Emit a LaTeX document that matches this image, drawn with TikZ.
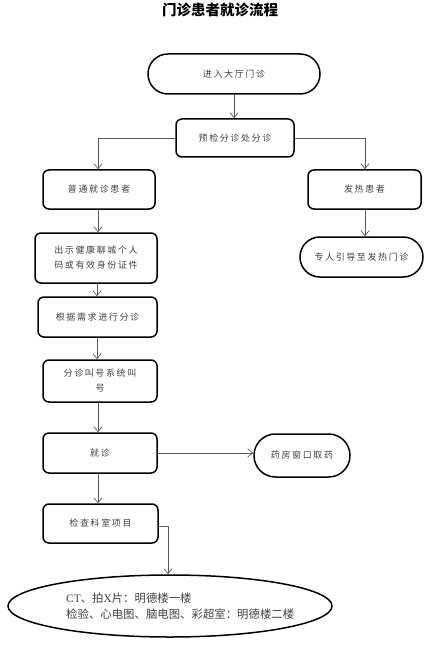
\documentclass[tikz,border=0pt]{standalone}
\usepackage{fontspec}
\setmainfont{Liberation Serif}
\newfontfamily\cjk{Noto Sans CJK SC}
\newfontfamily\cjksp{Noto Sans CJK SC}[LetterSpace=18]
\usetikzlibrary{arrows.meta,shapes.geometric}
\tikzset{
  box/.style={draw=black, line width=1.5pt, rounded corners=6pt, inner sep=0pt,
    align=center, text=black!75, font=\cjksp\fontsize{9}{15}\selectfont},
  pill/.style={box, rounded corners=#1},
  conn/.style={draw=black!65, line width=0.7pt},
  arr/.style={conn, -{Straight Barb[length=5pt,width=8pt]}}
}
\begin{document}
\begin{tikzpicture}[x=1pt,y=-1pt]
\useasboundingbox (0,0) rectangle (442,660);
\node[font=\cjk\bfseries\fontsize{14.5}{16}\selectfont] (title) at (220,10) {门诊患者就诊流程};

\node[pill=19.9pt, minimum width=172pt, minimum height=40pt] (N1) at (234,74) {进入大厅门诊};
\node[box, minimum width=118pt, minimum height=38pt] (N2) at (235,138) {预检分诊处分诊};
\node[box, minimum width=112pt, minimum height=39pt] (N3) at (99,189.5) {普通就诊患者};
\node[box, minimum width=113pt, minimum height=39pt] (N4) at (364.5,189.5) {发热患者};
\node[box, minimum width=122pt, minimum height=50pt] (N5) at (96,258) {出示健康聊城个人\\码或有效身份证件};
\node[pill=19.9pt, minimum width=123pt, minimum height=40pt] (N6) at (361.5,257) {专人引导至发热门诊};
\node[box, minimum width=119pt, minimum height=40pt] (N7) at (97.5,317) {根据需求进行分诊};
\node[box, minimum width=114pt, minimum height=42pt] (N8) at (100,381) {分诊叫号系统叫\\号};
\node[box, minimum width=114pt, minimum height=40pt] (N9) at (100,453) {就诊};
\node[pill=21.4pt, minimum width=96pt, minimum height=43pt] (N10) at (302,455.5) {药房窗口取药};
\node[box, minimum width=115pt, minimum height=39pt] (N11) at (100.5,523.5) {检查科室项目};
\node[ellipse, draw=black, line width=1.5pt, minimum width=324pt, minimum height=62pt, inner sep=0pt] (N12) at (170,606) {};
\node[anchor=west, align=left, inner sep=0pt, text=black!75, font=\cjk\fontsize{11.4}{16}\selectfont] (N12t) at (66,606)
  {{\rmfamily CT}、拍{\rmfamily X}片：明德楼一楼\\检验、心电图、脑电图、彩超室：明德楼二楼};

\coordinate (c1) at (168,526);

\draw[arr] (N1.south) -- (N1.south |- N2.north);
\draw[arr] (N2.west) -| (N3.north -| 98,0);
\draw[arr] (N2.east) -| (N4.north -| 365,0);
\draw[arr] (N3.south -| 98,0) -- (N5.north -| 98,0);
\draw[arr] (N4.south -| 365,0) -- (N6.north -| 365,0);
\draw[arr] (N5.south -| 97,0) -- (N7.north -| 97,0);
\draw[arr] (N7.south -| 97,0) -- (N8.north -| 97,0);
\draw[arr] (N8.south -| 98,0) -- (N9.north -| 98,0);
\draw[arr] (N9.east) -- (N10.west |- N9.east);
\draw[arr] (N9.south -| 98,0) -- (N11.north -| 98,0);
\draw[arr] (N11.east |- c1) -- (c1) -- (c1 |- N12.north);
\end{tikzpicture}
\end{document}
